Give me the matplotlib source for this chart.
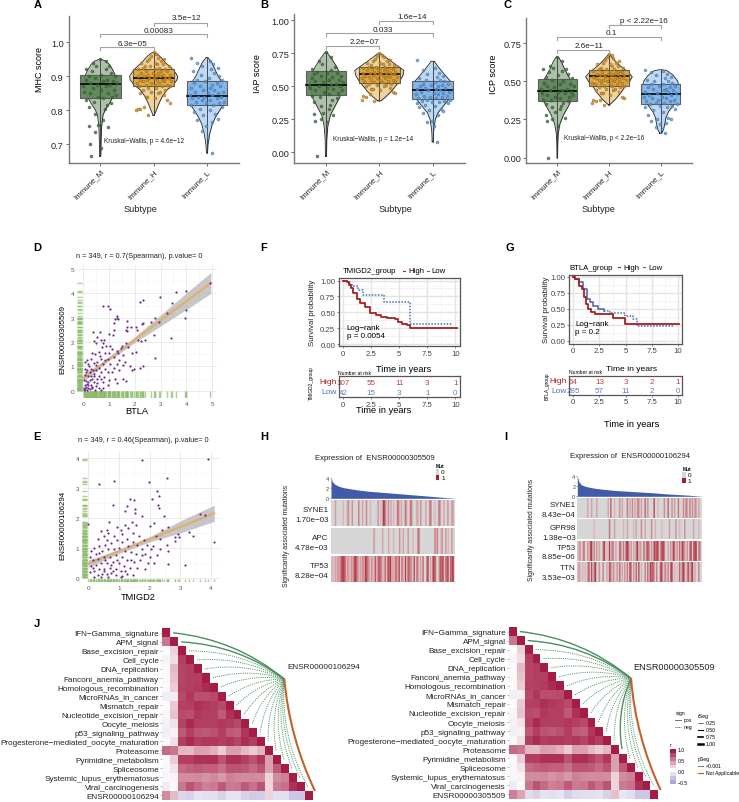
#!/usr/bin/env python3
import numpy as np
import matplotlib
matplotlib.use('Agg')
import matplotlib.pyplot as plt
from matplotlib.colors import LinearSegmentedColormap, TwoSlopeNorm
from matplotlib.patches import PathPatch, Rectangle
from matplotlib.path import Path

plt.rcParams['font.family'] = ['Liberation Sans', 'DejaVu Sans']

W, H = 739, 803

subtypes = ['Immune_M', 'Immune_H', 'Immune_L']
group_fill = ['#5f8559', '#dfa640', '#80b4ea']
group_dot = ['#3d6a3a', '#c98a20', '#5c90c8']
group_edge = ['#2f4f2d', '#7a5410', '#33608f']

# jitter offsets, ordered from the lowest point of a group to the highest
jit_m = [-.17, .02, -.2, -.1, .14, -.22, -.05, .05, -.1, .08, -.22, .12, .2, -.12, -.27, .05, .22, -.04, .3, -.2,
         .14, -.3, .02, .26, -.14, .1, -.32, .18, -.06, .32, -.2, .06, .24, -.26, .12, -.1, .28, -.22, .02, .2,
         -.16, .1, -.27, .16, -.08, -.14, .1, 0]
jit_h = [-.1, -.33, -.25, -.3, -.18, .3, .25, .02, -.15, -.12, .2, .08, -.25, .12, -.05, .22, -.2, .05, -.1, .3,
         -.28, .16, .02, -.15, .26, -.32, .1, -.04, .2, -.2, .33, .06, -.12, .15, -.26, .28, 0, -.08, .22, -.3,
         .12, .04, -.18, .3, -.1, .18, -.24, .08, -.02, .26, -.14, .14, -.3, .02, .22, -.2, .1, -.06, .28, -.16,
         .06, .18, -.24, .02, .14, -.12, .2, -.08, .08, -.04, .05, 0]
jit_l = [.09, .02, -.1, -.02, .1, -.18, .2, -.07, .15, -.25, .05, -.14, .28, -.3, .12, -.02, .22, -.2, .32, -.1,
         .06, -.28, .18, -.05, .26, -.16, .1, -.32, .02, .2, -.22, .3, -.08, .14, -.3, .06, .24, -.14, .1, -.24,
         .18, -.04, .28, -.18, .04, .22, -.12, .14, -.26, .08, .2, -.1, .12, -.18, .05, -.3]

mhc_m = [.665, .69, .70, .735, .75, .755, .757, .77, .79, .805, .81, .815, .82, .825, .83, .835, .84, .84, .845, .85,
         .85, .855, .86, .86, .865, .87, .87, .875, .875, .88, .88, .885, .885, .89, .89, .895, .90, .90, .905, .91,
         .915, .92, .92, .93, .93, .94, .945, .95]
mhc_h = [.785, .80, .805, .805, .81, .82, .83, .835, .84, .84, .845, .85, .85, .855, .855, .86, .86, .865, .865, .87,
         .87, .87, .875, .875, .875, .88, .88, .88, .885, .885, .885, .89, .89, .89, .89, .895, .895, .895, .895, .90,
         .90, .90, .90, .905, .905, .905, .91, .91, .91, .915, .915, .915, .92, .92, .92, .925, .925, .93, .93, .93,
         .935, .935, .94, .94, .945, .945, .95, .95, .955, .96, .965, .97]
mhc_l = [.675, .72, .74, .755, .765, .77, .775, .785, .79, .795, .80, .805, .81, .815, .815, .82, .82, .825, .825, .83,
         .83, .835, .835, .84, .84, .84, .845, .845, .85, .85, .855, .855, .86, .86, .865, .865, .87, .87, .875, .88,
         .88, .885, .89, .89, .895, .90, .905, .91, .915, .92, .925, .93, .935, .94, .945, .955]
iap_m = [-.03, .23, .24, .25, .28, .29, .30, .33, .35, .36, .38, .40, .41, .42, .43, .44, .45, .46, .47, .47,
         .48, .49, .49, .50, .50, .51, .51, .52, .53, .53, .54, .55, .55, .56, .57, .58, .58, .59, .60, .60,
         .61, .62, .63, .65, .67, .69, .72, .76]
iap_h = [.39, .40, .42, .43, .44, .45, .46, .47, .48, .48, .49, .50, .50, .51, .51, .52, .52, .53, .53, .54,
         .54, .54, .55, .55, .55, .56, .56, .56, .57, .57, .57, .58, .58, .58, .58, .59, .59, .59, .59, .60,
         .60, .60, .60, .61, .61, .61, .62, .62, .62, .63, .63, .63, .64, .64, .64, .65, .65, .65, .66, .66,
         .67, .67, .68, .68, .69, .69, .70, .71, .72, .73, .74, .75]
iap_l = [.075, .20, .23, .24, .28, .30, .31, .32, .33, .34, .35, .36, .37, .37, .38, .38, .39, .39, .40, .40,
         .41, .41, .42, .42, .43, .43, .44, .44, .45, .45, .46, .46, .47, .47, .48, .48, .49, .49, .50, .50,
         .51, .51, .52, .52, .53, .54, .55, .55, .56, .57, .58, .59, .60, .62, .64, .70]
icp_m = [0, .21, .24, .25, .26, .28, .30, .32, .33, .34, .35, .36, .37, .38, .38, .39, .40, .40, .41, .41,
         .42, .42, .43, .43, .44, .44, .45, .45, .46, .47, .47, .48, .48, .49, .50, .51, .52, .53, .54, .55,
         .56, .57, .58, .58, .59, .60, .63, .66]
icp_h = [.345, .36, .37, .375, .38, .39, .40, .41, .42, .42, .43, .44, .44, .45, .45, .46, .46, .47, .47, .47,
         .48, .48, .48, .49, .49, .49, .50, .50, .50, .51, .51, .51, .51, .52, .52, .52, .52, .53, .53, .53,
         .53, .54, .54, .54, .54, .55, .55, .55, .55, .56, .56, .56, .57, .57, .57, .58, .58, .58, .59, .59,
         .60, .60, .61, .61, .62, .62, .63, .64, .65, .66, .67, .68]
icp_l = [.16, .19, .20, .22, .23, .24, .25, .25, .26, .28, .30, .31, .32, .33, .33, .34, .34, .35, .35, .36,
         .36, .37, .37, .38, .38, .39, .39, .40, .40, .41, .41, .42, .42, .43, .43, .44, .44, .45, .45, .46,
         .46, .47, .47, .48, .48, .49, .50, .50, .51, .52, .53, .54, .55, .56, .57, .575]

# violin outlines: score, half width
vio_mhc = [([.665, .70, .75, .785, .80, .82, .84, .86, .88, .90, .92, .935, .945, .95],
            [.01, .015, .025, .05, .09, .17, .24, .29, .31, .29, .23, .17, .1, .01]),
           ([.785, .80, .82, .84, .86, .875, .89, .90, .91, .925, .94, .955, .965, .97],
            [.01, .05, .1, .16, .25, .37, .44, .45, .41, .33, .22, .14, .07, .02]),
           ([.675, .70, .73, .76, .78, .80, .82, .84, .86, .88, .90, .92, .94, .95, .955],
            [.01, .02, .05, .1, .16, .24, .32, .37, .36, .29, .21, .15, .09, .04, .02])]
vio_iap = [([-.03, .1, .2, .28, .35, .42, .5, .58, .65, .7, .74, .76],
            [.01, .015, .035, .08, .17, .26, .32, .28, .2, .12, .05, .01]),
           ([.39, .42, .46, .5, .54, .58, .62, .65, .69, .72, .75],
            [.03, .12, .22, .3, .38, .44, .46, .36, .22, .12, .02]),
           ([.08, .15, .2, .25, .3, .36, .42, .48, .54, .6, .65, .69],
            [.01, .015, .03, .05, .1, .22, .34, .38, .33, .2, .1, .03])]
vio_icp = [([0, .1, .16, .22, .28, .34, .4, .46, .52, .58, .62, .655, .66],
            [.005, .01, .02, .05, .12, .22, .3, .31, .24, .14, .09, .03, .01]),
           ([.345, .38, .42, .46, .5, .53, .56, .6, .64, .675],
            [.01, .12, .22, .3, .4, .45, .37, .22, .1, .01]),
           ([.16, .18, .22, .26, .3, .35, .4, .45, .5, .54, .57, .575],
            [.02, .05, .08, .1, .15, .26, .33, .36, .33, .24, .12, .03])]

# q1, median, q3
box_mhc = [(.835, .876, .905), (.871, .895, .92), (.815, .841, .886)]
box_iap = [(.432, .507, .614), (.525, .595, .644), (.404, .472, .538)]
box_icp = [(.369, .434, .514), (.467, .534, .573), (.349, .416, .482)]

btla_pts = [(4.92, 4.42), (3.99, 4.12), (3.61, 4.08), (2.98, 3.86), (2.33, 3.73), (2.21, 3.66), (3.43, 3.6), (4.0, 3.32),
            (3.96, 3.01), (3.26, 3.2), (.75, 3.49), (.96, 3.49), (1.05, 3.34), (1.31, 3.07), (1.32, 3.0), (1.36, 2.93),
            (2.8, 2.97), (2.62, 2.81), (2.95, 2.81), (2.33, 2.78), (2.27, 2.74), (1.71, 2.85), (1.18, 2.77), (1.23, 2.95),
            (3.41, 2.16), (2.76, 2.3), (2.8, 1.34), (1.7, 2.6), (1.65, 2.5), (1.7, 2.45), (1.85, 2.6), (2.05, 2.62),
            (2.1, 2.5), (1.2, 2.5), (1.15, 2.3), (1.0, 2.35), (.37, 2.41), (.65, 2.43), (.55, 2.2), (.4, 2.05),
            (.5, 1.95), (.7, 2.1), (.78, 1.95), (.8, 2.1), (.72, 1.8), (.9, 1.85), (1.05, 1.85), (1.1, 1.7),
            (1.3, 1.65), (1.45, 1.75), (1.5, 1.85), (1.65, 1.95), (1.75, 1.8), (2.12, 2.1), (2.25, 2.05), (2.38, 2.08),
            (1.9, 1.55), (2.05, 1.6), (1.35, 1.55), (1.55, 1.45), (1.2, 1.4), (1.4, 1.25), (1.6, 1.2), (1.55, 1.05),
            (1.8, 1.0), (1.9, .85), (1.98, .9), (2.2, .95), (2.3, 1.0), (1.2, .95), (1.05, 1.1), (.95, 1.3),
            (.85, 1.55), (.6, 1.6), (.45, 1.5), (.3, 1.3), (.35, 1.55), (.15, 1.25), (.08, 1.2), (.2, 1.1),
            (.4, 1.15), (.55, 1.2), (.7, 1.3), (.75, 1.1), (.6, .95), (.85, .9), (.95, .75), (.7, .75),
            (.5, .85), (.3, .9), (.15, .85), (.05, .9), (.25, .75), (.42, .7), (.6, .6), (.8, .55),
            (1.0, .45), (1.22, .5), (1.3, .3), (1.55, .5), (1.65, .4), (.95, .25), (.75, .35), (.55, .3),
            (.35, .5), (.18, .6), (.08, .65), (.03, .45), (.12, .4), (.25, .45), (.4, .35), (.48, .2),
            (.3, .25), (.15, .28), (.05, .25), (.1, .15), (.2, .12), (.02, .1), (.08, .05), (.15, .02),
            (.25, .05), (.35, .1), (.45, .02), (.6, .1), (.75, .12), (.68, .03), (.03, .02), (.18, .22),
            (.28, .6), (.38, .85), (.22, 1.0), (.5, 1.05), (.65, 1.42), (.85, 1.25), (1.0, 1.55), (1.12, .75),
            (1.3, 1.1), (1.4, .85), (.1, .75), (.2, .35), (.32, .15), (.4, .6), (.55, .5), (.68, .5)]

tmigd2_pts = [(1.74, 3.93), (3.91, 3.95), (2.57, 3.32), (1.98, 3.18), (.83, 3.22), (.36, 3.12), (2.24, 2.88), (2.29, 2.71),
              (2.07, 2.64), (1.37, 2.61), (1.5, 2.6), (2.28, 2.43), (2.29, 2.34), (.79, 2.43), (1.25, 2.39), (1.52, 2.3),
              (1.18, 2.23), (1.52, 2.17), (1.74, 2.05), (3.64, 2.12), (3.79, 2.09), (0, 1.8), (.66, 1.87), (4.1, 1.2),
              (3.16, .43), (2.61, .48), (3.28, 1.54), (3.4, 1.4), (2.93, 1.48), (2.97, 1.36), (2.83, 1.36), (2.83, 1.23),
              (2.61, 1.69), (2.48, 2.05), (2.14, 1.84), (2.0, 1.72), (1.43, 1.85), (1.55, 1.75), (1.2, 1.75), (1.3, 1.65),
              (1.05, 1.6), (.93, 1.7), (.6, 1.6), (.42, 1.55), (.5, 1.4), (.3, 1.3), (.65, 1.5), (.85, 1.4),
              (1.1, 1.45), (1.25, 1.3), (1.45, 1.5), (1.65, 1.4), (1.8, 1.25), (2.2, 1.4), (2.4, 1.6), (2.35, 1.3),
              (2.55, 1.1), (2.35, .95), (2.6, .9), (2.1, 1.05), (1.9, 1.1), (1.75, .95), (1.6, 1.1), (1.45, 1.2),
              (1.3, 1.05), (1.1, 1.2), (.95, 1.25), (.75, 1.15), (.55, 1.1), (.35, 1.05), (.2, 1.0), (.1, .9),
              (.25, .8), (.45, .9), (.65, .95), (.85, .95), (1.0, 1.0), (1.2, .9), (1.4, .85), (1.55, .8),
              (1.85, .8), (2.0, .7), (2.25, .75), (.05, .7), (.15, .6), (.3, .65), (.5, .7), (.7, .7),
              (.9, .75), (1.1, .7), (1.25, .6), (1.5, .55), (1.7, .6), (1.95, .5), (2.15, .5), (.1, .4),
              (.25, .45), (.42, .5), (.6, .5), (.8, .55), (1.0, .5), (1.15, .4), (1.35, .35), (1.6, .35),
              (1.85, .3), (.05, .2), (.2, .25), (.35, .3), (.5, .3), (.7, .35), (.9, .3), (1.05, .25),
              (1.25, .15), (1.45, .1), (.3, .1), (.45, .15), (.6, .12), (.75, .18), (.9, .1), (1.1, .08),
              (.2, .05), (.4, .05), (.65, .02), (1.05, .02), (.55, .6), (.75, .45), (.95, .6), (.35, .82),
              (.62, 1.25), (.82, .22), (1.2, .25), (1.4, .6), (1.75, .75), (2.05, .95), (.15, .32), (.52, .22)]

btla_fit_x = [0, 1, 2, 3, 4, 4.95]
btla_fit = [.52, 1.31, 2.1, 2.89, 3.68, 4.43]
btla_lo = [.38, 1.24, 1.98, 2.66, 3.34, 4.0]
btla_hi = [.66, 1.38, 2.22, 3.12, 4.02, 4.86]
tmigd2_fit_x = [0, 1, 2, 3, 4.1]
tmigd2_fit = [.48, .89, 1.29, 1.70, 2.15]
tmigd2_lo = [.36, .82, 1.2, 1.5, 1.88]
tmigd2_hi = [.6, .96, 1.38, 1.9, 2.42]

km_f_high_t = [0, .3, .5, .7, .9, 1.2, 1.5, 1.9, 2.4, 2.9, 3.4, 3.9, 4.6, 4.9, 5.2, 5.65, 5.95, 10.1]
km_f_high_s = [1, .97, .93, .88, .8, .71, .65, .59, .49, .45, .43, .41, .39, .34, .32, .30, .255, .255]
km_f_low_t = [0, .3, .6, .9, 1.3, 1.8, 3.6, 5.95, 9.7]
km_f_low_s = [1, .97, .93, .91, .85, .78, .66, .32, .32]
km_g_high_t = [0, .2, .5, .8, 1.0, 1.2, 1.4, 1.7, 2.1, 3.8, 4.9, 10.05]
km_g_high_s = [1, .96, .86, .8, .68, .58, .5, .45, .42, .35, .26, .26]
km_g_low_t = [0, .2, .5, .9, 1.3, 1.6, 1.9, 2.4, 2.9, 3.5, 4.5, 4.9, 5.7, 6.05, 9.55]
km_g_low_s = [1, .97, .91, .8, .65, .6, .54, .5, .47, .43, .43, .38, .34, .235, .235]
risk_times = [0, 2.5, 5, 7.5, 10]
risk_f_high = [307, 55, 11, 3, 1]
risk_f_low = [42, 15, 3, 1, 0]
risk_g_high = [64, 13, 3, 2, 1]
risk_g_low = [285, 57, 11, 2, 0]

expr_frac = [0, .01, .03, .06, .1, .15, .2, .3, .4, .5, .6, .7, .8, .9, .95, 1]
expr_305509 = [4.2, 3.3, 2.8, 2.4, 2.1, 1.9, 1.7, 1.4, 1.2, 1.0, .8, .6, .4, .2, .1, .02]
expr_106294 = [4.1, 3.0, 2.3, 2.0, 1.75, 1.55, 1.4, 1.15, 1.0, .85, .7, .5, .35, .2, .1, .02]

# one digit per column: 0 wild type, 9 fully mutated
mut_h_names = ['SYNE1\n1.70e\u221203', 'APC\n4.78e\u221203', 'TP53\n8.28e\u221204']
mut_h = ['000400000300350050000600400500300000503087405040300650400640065000430500040065003006500400500440',
         '000000000000000000000000000000000005000000400004000300005004000500030006600000000000062600350050300500',
         '231425357876253253786514262875415237167650460868242653806408076540806504070068040876005768066807690']
mut_i_names = ['SYNE1\n8.43e\u221204', 'GPR98\n1.38e\u221203', 'TP53\n8.85e\u221206', 'TTN\n3.53e\u221203']
mut_i = ['00000000400400040000000040700300050400060405040550400705000080030000500700504006000506406050540400',
         '00000000000003000000000006000400000030040000304000500400005003000030000040000500300050000004000300',
         '23503700507806050400680308065040075060786050406805207067605086780578600405086050708640506807780650',
         '24303030570806800500600407605205070405060860507080300607086750600780450607803020706840570680400600']

pathways = ['IFN\u2212Gamma_signature', 'APM_signal', 'Base_excision_repair', 'Cell_cycle', 'DNA_replication',
            'Fanconi_anemia_pathway', 'Homologous_recombination', 'MicroRNAs_in_cancer', 'Mismatch_repair',
            'Nucleotide_excision_repair', 'Oocyte_meiosis', 'p53_signaling_pathway',
            'Progesterone\u2212mediated_oocyte_maturation', 'Proteasome', 'Pyrimidine_metabolism', 'Spliceosome',
            'Systemic_lupus_erythematosus', 'Viral_carcinogenesis']
corr_rows = [[1],
             [.6, 1],
             [.02, .2, 1],
             [-.07, .15, .85, 1],
             [.03, .3, .82, .85, 1],
             [.03, .27, .82, .85, .85, 1],
             [.03, .22, .83, .84, .86, .93, 1],
             [-.1, .08, .8, .88, .78, .78, .8, 1],
             [.02, .24, .83, .85, .9, .87, .85, .8, 1],
             [.04, .27, .8, .77, .87, .85, .85, .72, .9, 1],
             [-.08, .13, .82, .93, .85, .85, .85, .87, .85, .8, 1],
             [-.1, .07, .72, .85, .75, .73, .77, .85, .72, .7, .88, 1],
             [-.04, .14, .85, .93, .85, .87, .87, .85, .88, .82, .92, .85, 1],
             [.65, .6, .32, .3, .42, .4, .35, .22, .42, .42, .3, .22, .32, 1],
             [.03, .22, .85, .85, .9, .9, .9, .75, .9, .92, .85, .75, .88, .42, 1],
             [-.05, .12, .65, .7, .72, .7, .7, .63, .75, .75, .72, .65, .75, .42, .72, 1],
             [-.05, .05, .5, .5, .52, .47, .52, .45, .55, .52, .5, .52, .5, .2, .5, .55, 1],
             [-.12, .03, .6, .75, .65, .55, .58, .72, .58, .6, .72, .62, .75, .18, .58, .62, .9, 1]]
corr_106294 = [.5, .3, -.25, -.28, -.18, -.2, -.2, -.28, -.18, -.18, -.28, -.32, -.3, .2, -.2, -.2, -.35, -.35, 1]
corr_305509 = [.55, .4, -.22, -.28, -.18, -.2, -.16, -.3, -.22, -.2, -.2, -.18, -.28, .28, -.15, -.2, -.35, -.35, 1]

fig = plt.figure(figsize=(W / 100, H / 100), dpi=100)


def px_ax(x0, y0, x1, y1):
    return fig.add_axes([x0 / W, 1 - y1 / H, (x1 - x0) / W, (y1 - y0) / H])


ov = fig.add_axes([0, 0, 1, 1], zorder=20)
ov.set_xlim(0, W)
ov.set_ylim(H, 0)
ov.axis('off')
ov.patch.set_alpha(0)


def txt(x, y, s, size=6, ha='center', va='center', **kw):
    ov.text(x, y, s, fontsize=size, ha=ha, va=va, **kw)


def bracket(x0, x1, y, label, lx, ly):
    ov.plot([x0, x0, x1, x1], [y + 3, y, y, y + 3], color='#a3a3a3', lw=.8)
    txt(lx, ly, label, 5.9, color='#222222')


def violin_panel(box, xlim, ylim, yticks, fmt, ylabel, vio, boxes, ys, ylab_x, ylab_y):
    ax = px_ax(*box)
    for i in range(3):
        c = i + 1
        yy, hw = vio[i]
        yy, hw = np.array(yy), np.array(hw)
        ax.fill_betweenx(yy, c - hw, c + hw, color=group_fill[i], alpha=.5, lw=0, zorder=1)
        ax.plot(np.r_[c - hw, (c + hw)[::-1], c - hw[0]], np.r_[yy, yy[::-1], yy[0]], color='#222222', lw=.6, zorder=2)
        q1, med, q3 = boxes[i]
        ax.add_patch(Rectangle((c - .38, q1), .76, q3 - q1, fc=group_fill[i], ec='#555555', lw=.8, alpha=.92, zorder=3))
        ax.plot([c, c], [yy[0], yy[-1]], color='#333333', lw=.6, zorder=4)
        ax.plot([c - .37, c + .37], [med, med], color='black', lw=1.2, zorder=5)
        off = [jit_m, jit_h, jit_l][i]
        xs = [c + o for o, _ in zip(off, ys[i])]
        ax.scatter(xs, ys[i][:len(xs)], s=5, color=group_dot[i], edgecolors=group_edge[i], linewidths=.25,
                   alpha=.8, zorder=6)
    ax.set_xlim(*xlim)
    ax.set_ylim(*ylim)
    ax.set_xticks([1, 2, 3])
    ax.set_xticklabels(subtypes, rotation=45, ha='right', rotation_mode='anchor', fontsize=5.7, color='#222222')
    ax.set_yticks(yticks)
    ax.set_yticklabels([fmt.format(t) for t in yticks], fontsize=6.6, color='#222222')
    ax.tick_params(length=2, width=.6, color='#555555', pad=1.5)
    for s in ['top', 'right']:
        ax.spines[s].set_visible(False)
    for s in ['left', 'bottom']:
        ax.spines[s].set_color('#777777')
        ax.spines[s].set_linewidth(1)
    txt(ylab_x, ylab_y, ylabel, 6.5, rotation=90)
    return ax


violin_panel((68.5, 17, 239, 164), (.405, 3.6), (.645, 1.077), [.7, .8, .9, 1.0], '{:.1f}', 'MHC score',
             vio_mhc, box_mhc, [mhc_m, mhc_h, mhc_l], 39, 70)
violin_panel((294.3, 15, 464.7, 164), (.406, 3.6), (-.081, 1.048), [0, .25, .5, .75, 1.0], '{:.2f}', 'IAP score',
             vio_iap, box_iap, [iap_m, iap_h, iap_l], 258, 74)
violin_panel((526, 19, 691.7, 164), (.395, 3.6), (-.035, .914), [0, .25, .5, .75], '{:.2f}', 'ICP score',
             vio_icp, box_icp, [icp_m, icp_h, icp_l], 493, 74)

bracket(100.3, 153.7, 48.3, '6.3e\u221205', 132, 44)
bracket(100.3, 207.3, 35.3, '0.00083', 159, 31.7)
bracket(153.7, 207.3, 23.7, '3.5e\u221212', 186.7, 19)
bracket(326, 379.3, 47.3, '2.2e\u221207', 364, 43)
bracket(326, 432.7, 34.3, '0.033', 383, 30)
bracket(379.3, 432.7, 22, '1.6e\u221214', 412, 17.3)
bracket(557.3, 608.7, 50.7, '2.6e\u221211', 588.7, 46)
bracket(557.3, 660.7, 38.3, '0.1', 611, 33.7)
bracket(608.7, 660.7, 26, 'p < 2.22e\u221216', 644.3, 21.7)
txt(104, 141.7, 'Kruskal\u2212Wallis, p = 4.6e\u221212', 4.7, ha='left', color='#222222')
txt(333, 139.3, 'Kruskal\u2212Wallis, p = 1.2e\u221214', 4.7, ha='left', color='#222222')
txt(564, 139, 'Kruskal\u2212Wallis, p < 2.2e\u221216', 4.7, ha='left', color='#222222')
for sx in [140, 395, 598]:
    txt(sx, 210, 'Subtype', 6.7, color='#222222')

for lx, ly, s in [(38, 5, 'A'), (264, 5, 'B'), (508, 5, 'C'), (37, 248, 'D'), (264, 248, 'F'), (510, 248, 'G'),
                  (37, 437, 'E'), (264, 437, 'H'), (506, 437, 'I'), (37, 624, 'J')]:
    txt(lx, ly, s, 8, fontweight='bold')


def scatter_panel(box, xlim, ylim, xticks, yticks, pts, fit_x, fit, lo, hi, rug_x, rug_y):
    ax = px_ax(*box)
    xs = [p[0] for p in pts]
    ys = [p[1] for p in pts]
    ax.set_xlim(*xlim)
    ax.set_ylim(*ylim)
    ax.set_xticks(xticks)
    ax.set_yticks(yticks)
    ax.set_xticks([t + .5 for t in xticks[:-1]], minor=True)
    ax.set_yticks([t + .5 for t in yticks[:-1]], minor=True)
    ax.grid(True, which='major', color='#e8e8e8', lw=.6)
    ax.grid(True, which='minor', color='#f3f3f3', lw=.4)
    ax.set_axisbelow(True)
    ax.tick_params(which='both', length=0, labelsize=4.6, labelcolor='#555555', pad=2)
    for s in ax.spines.values():
        s.set_visible(False)
    ax.vlines(xs, ylim[0], rug_x, color='#8dbb6c', lw=1, alpha=.7)
    ax.hlines(ys, xlim[0], rug_y, color='#8dbb6c', lw=1, alpha=.7)
    ax.fill_between(fit_x, lo, hi, color='#b5b5b5', alpha=.75, lw=0, zorder=2)
    ax.plot(fit_x, fit, color='#e2ae6c', lw=1.5, zorder=3)
    ax.scatter(xs, ys, s=2.5, color='#6a2d8f', lw=0, zorder=4)


scatter_panel((77, 266, 217, 399), (-.245, 5.19), (-.3, 5.17), [0, 1, 2, 3, 4, 5], [0, 1, 2, 3, 4, 5], btla_pts,
              btla_fit_x, btla_fit, btla_lo, btla_hi, -.02, -.05)
scatter_panel((82, 452, 220, 583), (-.205, 4.29), (-.13, 4.22), [0, 1, 2, 3, 4], [0, 1, 2, 3, 4], tmigd2_pts,
              tmigd2_fit_x, tmigd2_fit, tmigd2_lo, tmigd2_hi, -.03, -.03)
txt(139, 256, 'n = 349, r = 0.7(Spearman), p.value= 0', 5.3, color='#222222')
txt(143.3, 441, 'n = 349, r = 0.46(Spearman), p.value= 0', 5.3, color='#222222')
txt(63, 340, 'ENSR00000305509', 5.7, rotation=90)
txt(63, 525.7, 'ENSR00000106294', 5.7, rotation=90)
txt(137, 411.7, 'BTLA', 6.7)
txt(138, 597.7, 'TMIGD2', 6.7)

red = '#a8201f'
blue = '#4a6fb5'


def km_axes(box, xlim, ylim):
    ax = px_ax(*box)
    ax.set_xlim(*xlim)
    ax.set_ylim(*ylim)
    ax.set_xticks(risk_times)
    ax.set_xticklabels(['0', '2.5', '5', '7.5', '10'], fontsize=5.6, color='#444444')
    ax.tick_params(length=1.5, width=.5, color='#555555', pad=1)
    for s in ax.spines.values():
        s.set_color('#555555')
        s.set_linewidth(.9)
    return ax


def km_panel(box, xlim, ylim, t_h, s_h, t_l, s_l, split):
    ax = km_axes(box, xlim, ylim)
    ax.set_yticks([0, .25, .5, .75, 1])
    ax.set_yticklabels(['0.00', '0.25', '0.50', '0.75', '1.00'], fontsize=5.6, color='#444444')
    ax.set_xticks([1.25, 3.75, 6.25, 8.75], minor=True)
    ax.set_yticks([.125, .375, .625, .875], minor=True)
    ax.tick_params(which='minor', length=0)
    ax.grid(True, which='major', color='#e4e4e4', lw=1)
    ax.grid(True, which='minor', color='#efefef', lw=.5)
    ax.set_axisbelow(True)
    if split:
        ax.step(t_l[:split + 1], s_l[:split + 1], where='post', color=blue, lw=1.2)
        ax.step(t_l[split:], s_l[split:], where='post', color=blue, lw=1.1, ls=(0, (1, 1)))
    else:
        ax.step(t_l, s_l, where='post', color=blue, lw=1.1, ls=(0, (1, 1)))
    ax.step(t_h, s_h, where='post', color=red, lw=1.3)


def risk_panel(box, xlim, high, low, lab_x, num_x, num_y, grp, grp_x, grp_y):
    ax = km_axes(box, xlim, (0, 2))
    ax.set_yticks([])
    for t, a, b in zip(risk_times, high, low):
        ax.text(t, 1.45, str(a), color=red, fontsize=5.8, ha='center', va='center', alpha=.85)
        ax.text(t, .5, str(b), color=blue, fontsize=5.8, ha='center', va='center', alpha=.9)
    txt(num_x, num_y, 'Number at risk', 3.6, ha='left')
    txt(grp_x, grp_y, grp, 3.5, rotation=90)
    y_mid = (box[1] + box[3]) / 2
    txt(lab_x, y_mid - 5, 'High', 6, ha='right', color=red)
    txt(lab_x, y_mid + 5, 'Low', 6, ha='right', color=blue)


km_panel((338.7, 279.3, 460, 347.3), (-.41, 10.41), (-.035, 1.035), km_f_high_t, km_f_high_s, km_f_low_t, km_f_low_s, 0)
km_panel((569.3, 275.7, 681.7, 345), (-.38, 10.35), (-.05, 1.03), km_g_high_t, km_g_high_s, km_g_low_t, km_g_low_s, 8)
risk_panel((338.7, 377.3, 460, 398.3), (-.41, 10.41), risk_f_high, risk_f_low, 337, 338, 373.7, 'TMIGD2_group', 311.7, 383)
risk_panel((569.3, 377.3, 681.7, 396), (-.38, 10.35), risk_g_high, risk_g_low, 567, 569, 373, 'BTLA_group', 546.7, 386.7)

txt(312, 313, 'Survival probability', 5.7, rotation=90, color='#222222')
txt(546.7, 310, 'Survival probability', 5.7, rotation=90, color='#222222')
txt(346.7, 329, 'Log\u2212rank', 5.8, ha='left')
txt(346.7, 336.3, 'p = 0.0054', 5.8, ha='left')
txt(575.3, 325, 'Log\u2212rank', 5.8, ha='left')
txt(575.3, 333, 'p = 0.2', 5.8, ha='left')
txt(343, 271.7, 'TMIGD2_group', 5.6, ha='left')
txt(408, 271.7, 'High', 5.6, ha='left')
txt(431.7, 271.7, 'Low', 5.6, ha='left')
ov.plot([403, 405], [271.7, 271.7], color=red, lw=.8)
ov.plot([426.7, 428.7], [271.7, 271.7], color=blue, lw=.8)
txt(569, 268.3, 'BTLA_group', 5.6, ha='left')
txt(623.7, 268.3, 'High', 5.6, ha='left')
txt(648, 268.3, 'Low', 5.6, ha='left')
ov.plot([618, 620], [268.3, 268.3], color=red, lw=.8)
ov.plot([643, 645], [268.3, 268.3], color=blue, lw=.8)
txt(404, 370, 'Time in years', 6.7)
txt(632, 370, 'Time in years', 6.1)
txt(383.7, 410.7, 'Time in years', 6.7)
txt(631.7, 425, 'Time in years', 6.7)

mut_cmap = LinearSegmentedColormap.from_list('mut', ['#d6d6d6', '#dcb0b3', '#c9707a', '#aa1f2c'])


def mutation_panel(x0, x1, base_y, top_y, ymax, expr, names, rows, spans, lab_x, label_ys, title, title_x, title_y,
                   ylab_x, ylab_y, sw_x, sw_y):
    ax = px_ax(x0, top_y, x1, base_y)
    ax.fill_between(expr_frac, 0, expr, color='#3f5ba9', lw=0)
    ax.set_xlim(0, 1)
    ax.set_ylim(0, ymax)
    ax.set_xticks([])
    ax.set_yticks([0, 2, 4])
    ax.tick_params(labelsize=4, length=1, width=.4, pad=.5, colors='#444444')
    for s in ['top', 'right', 'bottom', 'left']:
        ax.spines[s].set_visible(False)
    ax.patch.set_alpha(0)
    for row, (y0, y1), name, (ly0, ly1) in zip(rows, spans, names, label_ys):
        vals = np.array([[int(c) for c in row]])
        a = px_ax(x0, y0, x1, y1)
        a.imshow(vals, aspect='auto', cmap=mut_cmap, vmin=0, vmax=9, interpolation='bilinear')
        a.axis('off')
        l0, l1 = name.split('\n')
        txt(lab_x, ly0, l0, 5.8, ha='right', color='#222222')
        txt(lab_x, ly1, l1, 5.8, ha='right', color='#222222')
    txt(title_x, title_y, title, 5.6, color='#222222')
    txt(ylab_x, ylab_y, 'Significantly associated mutations', 4.85, rotation=90, color='#222222')
    ov.add_patch(Rectangle((sw_x, sw_y), 3.4, 5.4, fc='#d6d6d6', ec='none'))
    ov.add_patch(Rectangle((sw_x, sw_y + 5.4), 3.4, 5.6, fc='#b2182b', ec='none'))
    txt(sw_x + 4.4, sw_y - 3.6, 'Mut', 3.4, fontweight='bold')
    txt(sw_x + 5, sw_y + 2.7, '0', 4.6, ha='left')
    txt(sw_x + 5, sw_y + 8, '1', 4.6, ha='left')


mutation_panel(331, 455, 499.3, 478.5, 4.1, expr_305509, mut_h_names, mut_h,
               [(500.7, 527.3), (529, 555), (556.7, 583.3)], 328.7, [(511, 521), (539, 549), (567, 577)],
               'Expression of  ENSR00000305509', 375, 458.3, 286.7, 536, 436, 470.3)
mutation_panel(577.3, 702.3, 497.3, 477, 4.0, expr_106294, mut_i_names, mut_i,
               [(499, 519), (520.3, 540), (541.7, 561.7), (563, 583)], 575.7,
               [(505.7, 515.7), (529, 539), (548.3, 557.7), (569, 578.7)],
               'Expression of  ENSR00000106294', 630, 457, 531.7, 530, 682.3, 473.3)

corr_cmap = LinearSegmentedColormap.from_list('corr', ['#a99fd2', '#ffffff', '#a51c45'])
corr_norm = TwoSlopeNorm(vcenter=0, vmin=-.6, vmax=1)


def corr_panel(x0, x1, y0, y1, last, gene, hub, gene_x, gene_size, solid):
    ax = px_ax(x0, y0, x1, y1)
    n = len(last)
    mat = np.full((n, n), np.nan)
    for i, row in enumerate(corr_rows + [last]):
        mat[i, :len(row)] = row
    ax.pcolormesh(np.arange(n + 1), np.arange(n + 1), mat, cmap=corr_cmap, norm=corr_norm)
    ax.set_xlim(0, n)
    ax.set_ylim(n, 0)
    ax.set_xticks([])
    ax.set_yticks(np.arange(n) + .5)
    ax.set_yticklabels(pathways + [gene], fontsize=5.9, color='#222222')
    ax.tick_params(axis='y', length=1.5, width=.4, pad=.8, color='#888888')
    for s in ax.spines.values():
        s.set_visible(False)
    cw = (x1 - x0) / n
    ch = (y1 - y0) / n
    for i in range(n):
        tx = x0 + (i + 1) * cw + 3
        ty = y0 + (i + .5) * ch
        col, lw, ls, rad = '#4a8f5f', .65, (0, (1.2, 1.2)), .15
        if i in solid:
            lw, ls = 1.0, '-'
        if i == n - 1:
            tx, ty = x1 + 2.3, y1 - 9
            col, lw, ls, rad = '#c2622a', 1.5, '-', .09
        dx, dy = hub[0] - tx, hub[1] - ty
        ctrl = ((tx + hub[0]) / 2 + rad * dy, (ty + hub[1]) / 2 - rad * dx)
        ov.add_patch(PathPatch(Path([(tx, ty), ctrl, hub], [Path.MOVETO, Path.CURVE3, Path.CURVE3]),
                               fc='none', ec=col, lw=lw, ls=ls))
    txt(gene_x, 668, gene, gene_size, ha='left', color='#222222')


corr_panel(162.3, 312.7, 629.3, 801, corr_106294, 'ENSR00000106294', (284.3, 680), 287, 5.9, [0, 1])
corr_panel(509, 658.3, 628, 800, corr_305509, 'ENSR00000305509', (631, 679.3), 633.3, 6.6, [0, 1, 13])

# colour bar and line legends for J
cb = px_ax(670, 750, 676, 785)
bar_vals = np.array([1, .8, .6, .4, .2, 0, -.2, -.4, -.55])
cb.pcolormesh([0, 1], np.linspace(1, -.6, len(bar_vals) + 1), bar_vals[:, None], cmap=corr_cmap, norm=corr_norm)
cb.set_xticks([])
cb.set_yticks([-.5, 0, .5, 1])
cb.set_yticklabels(['\u22120.5', '0.0', '0.5', '1.0'], fontsize=3.7)
cb.yaxis.tick_right()
cb.tick_params(length=0, pad=1.5)
for s in cb.spines.values():
    s.set_visible(False)
txt(671, 746, 'r', 3.7)
txt(676, 714, 'sign', 3.7, ha='left')
ov.plot([675, 681], [721, 721], color='#333333', lw=.5)
ov.plot([675, 681], [728, 728], color='#333333', lw=.5, ls=(0, (1.5, 1)))
txt(684, 721, 'pos', 3.7, ha='left')
txt(684, 728, 'neg', 3.7, ha='left')
txt(698, 717, 'rSeg', 3.7, ha='left')
for yy, lab, lw in zip([724, 731, 738, 745], ['0.25', '0.50', '0.75', '1.00'], [.4, .8, 1.2, 1.8]):
    ov.plot([698, 703], [yy, yy], color='black', lw=lw)
    txt(706, yy, lab, 3.7, ha='left')
txt(698, 760, 'pSeg', 3.7, ha='left')
ov.plot([698, 703], [767, 767], color='#4a8f5f', lw=.7)
ov.plot([698, 703], [774, 774], color='#c2622a', lw=.9)
txt(706, 767, '<0.001', 3.7, ha='left')
txt(706, 774, 'Not Applicable', 3.7, ha='left')

fig.savefig('out.png', dpi=100)
